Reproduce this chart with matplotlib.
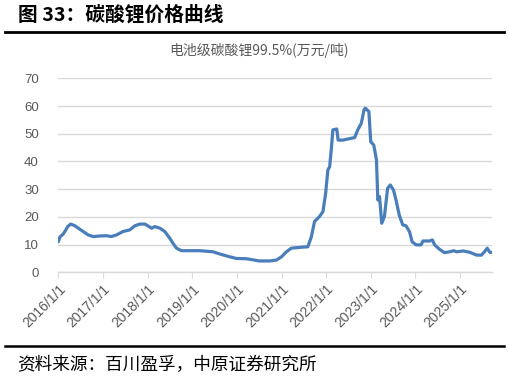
import matplotlib
matplotlib.use("Agg")
import matplotlib.pyplot as plt
import pandas as pd
from matplotlib.lines import Line2D

plt.rcParams['font.family'] = ['Noto Sans CJK SC', 'DejaVu Sans']

title = "图 33：碳酸锂价格曲线"
subtitle = "电池级碳酸锂99.5%(万元/吨)"
source = "资料来源：百川盈孚，中原证券研究所"

dates = [
    "2016-01-01", "2016-01-15", "2016-02-10", "2016-03-03", "2016-03-18", "2016-04-12",
    "2016-05-15", "2016-06-13", "2016-07-23", "2016-09-01", "2016-10-12", "2016-12-05",
    "2017-01-30", "2017-03-10", "2017-04-22", "2017-06-13", "2017-08-07", "2017-09-20",
    "2017-10-30", "2017-12-10", "2018-02-03", "2018-02-28", "2018-04-12", "2018-05-22",
    "2018-07-01", "2018-07-27", "2018-08-25", "2018-10-05", "2018-12-13", "2019-03-04",
    "2019-06-21", "2019-08-15", "2019-11-03", "2019-12-28", "2020-03-17", "2020-04-16",
    "2020-07-01", "2020-09-27", "2020-11-20", "2021-01-01", "2021-02-10", "2021-03-22",
    "2021-05-30", "2021-08-04", "2021-09-02", "2021-09-28", "2021-11-07", "2021-12-06",
    "2021-12-28", "2022-01-15", "2022-01-30", "2022-02-14", "2022-02-25", "2022-03-29",
    "2022-04-09", "2022-05-19", "2022-06-28", "2022-08-22", "2022-09-17", "2022-10-16",
    "2022-11-07", "2022-11-18", "2022-12-17", "2023-01-01", "2023-01-26", "2023-02-17",
    "2023-02-28", "2023-03-14", "2023-04-01", "2023-04-23", "2023-05-19", "2023-06-10",
    "2023-07-06", "2023-07-27", "2023-08-22", "2023-09-20", "2023-10-16", "2023-11-14",
    "2023-12-06", "2024-01-08", "2024-02-17", "2024-03-03", "2024-04-27", "2024-05-19",
    "2024-06-07", "2024-07-17", "2024-08-26", "2024-10-09", "2024-11-11", "2024-12-03",
    "2025-01-27", "2025-03-23", "2025-05-16", "2025-06-25", "2025-07-20", "2025-08-11",
    "2025-09-02", "2025-09-17",
]
prices = [
    11.0, 12.8, 13.8, 15.3, 16.5, 17.4,
    16.8, 15.9, 14.7, 13.5, 12.9, 13.1,
    13.2, 12.9, 13.5, 14.7, 15.3, 16.8,
    17.4, 17.4, 15.9, 16.5, 15.9, 14.7,
    12.3, 10.5, 8.7, 7.8, 7.8, 7.8,
    7.4, 6.6, 5.6, 5.0, 4.9, 4.7,
    4.1, 4.1, 4.4, 5.6, 7.4, 8.7,
    9.0, 9.2, 12.8, 18.3, 20.1, 21.9,
    28.5, 36.9, 38.1, 45.3, 51.4, 51.7,
    47.7, 47.7, 48.1, 48.6, 51.4, 53.8,
    58.6, 59.2, 58.0, 47.1, 45.9, 40.5,
    26.1, 27.3, 17.7, 20.1, 30.3, 31.5,
    29.7, 26.1, 20.7, 17.1, 16.8, 14.7,
    11.0, 9.9, 9.9, 11.3, 11.3, 11.7,
    9.9, 8.3, 7.1, 7.4, 7.8, 7.4,
    7.7, 7.2, 6.2, 6.2, 7.4, 8.7,
    7.2, 7.2,
]
tick_years = list(range(2016, 2026))
tick_labels = [f"{y}/1/1" for y in tick_years]
yticks = [0, 10, 20, 30, 40, 50, 60, 70]

W, H = 510, 379
fig = plt.figure(figsize=(W / 100, H / 100), dpi=100)

ax = fig.add_axes([58.3 / W, 1 - 272.3 / H, 433.4 / W, 194 / H])
x = pd.to_datetime(dates)
ax.plot(x, prices, color="#4a7ebb", lw=2.3, solid_joinstyle="round", solid_capstyle="round", zorder=3)

ax.set_ylim(0, 70)
ax.set_xlim(pd.Timestamp(dates[0]), pd.Timestamp(dates[-1]))
ax.set_yticks(yticks)
ax.yaxis.grid(True, color="#d9d9d9", lw=1)
ax.set_axisbelow(True)
for s in ["top", "right", "left"]:
    ax.spines[s].set_visible(False)
ax.spines["bottom"].set_color("#d9d9d9")
ax.spines["bottom"].set_linewidth(1)

ax.set_xticks(pd.to_datetime([f"{y}-01-01" for y in tick_years]))
ax.set_xticklabels(tick_labels, rotation=45, ha="right", rotation_mode="anchor",
                   family=["Liberation Sans", "DejaVu Sans"], fontsize=10, color="#595959")
ax.tick_params(axis="x", length=4, color="#d9d9d9", pad=3)
ax.tick_params(axis="y", length=0, pad=14, labelsize=9.5, labelcolor="#595959")
for lab in ax.get_yticklabels():
    lab.set_family(["Liberation Sans", "DejaVu Sans"])

fig.text(18 / W, 1 - 15 / H, title, fontsize=14.2, fontweight="bold", va="center", ha="left", color="#000000")
fig.add_artist(Line2D([5 / W, 504 / W], [1 - 32 / H, 1 - 32 / H], color="black", lw=2.0))
fig.text(259 / W, 1 - 50 / H, subtitle, fontsize=10, va="center", ha="center", color="#595959")
fig.add_artist(Line2D([5 / W, 504 / W], [1 - 346 / H, 1 - 346 / H], color="black", lw=1.8))
fig.text(17 / W, 1 - 365 / H, source, fontsize=12.7, va="center", ha="left", color="#000000")

fig.savefig("out.png", dpi=100)
